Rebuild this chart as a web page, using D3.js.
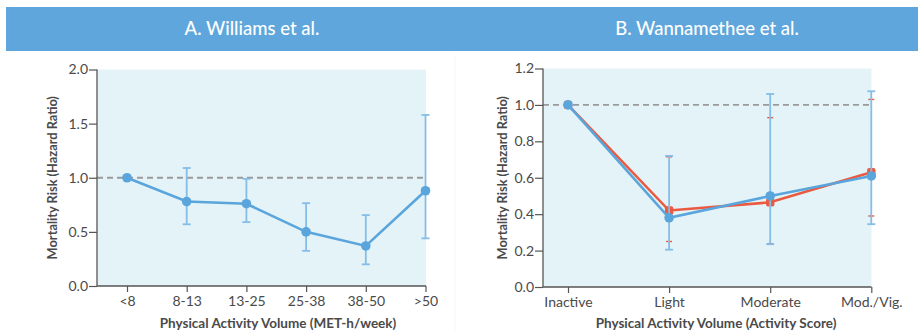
<!DOCTYPE html>
<html>
<head>
<meta charset="utf-8">
<script src="https://cdn.jsdelivr.net/npm/d3@7/dist/d3.min.js"></script>
<style>
  html, body { margin: 0; padding: 0; background: #fff; }
  svg { display: block; font-family: Lato, "Open Sans", sans-serif; }
</style>
</head>
<body>
<svg id="chart" width="918" height="331"></svg>
<script>
// Panel A: Williams et al.
const catsA = ["<8", "8-13", "13-25", "25-38", "38-50", ">50"];
const hrA   = [1.00, 0.78, 0.76, 0.50, 0.37, 0.88];
const loA   = [null, 0.57, 0.59, 0.325, 0.20, 0.44];
const hiA   = [null, 1.09, 0.99, 0.765, 0.655, 1.58];
const ticksA = [0, 0.5, 1.0, 1.5, 2.0];

// Panel B: Wannamethee et al. (two series)
const catsB  = ["Inactive", "Light", "Moderate", "Mod./Vig."];
const hrB1   = [1.00, 0.38, 0.50, 0.61];
const loB1   = [null, 0.205, 0.235, 0.345];
const hiB1   = [null, 0.72, 1.06, 1.075];
const hrB2   = [1.00, 0.42, 0.465, 0.63];
const loB2   = [null, 0.25, 0.238, 0.39];
const hiB2   = [null, 0.715, 0.93, 1.03];
const ticksB = [0, 0.2, 0.4, 0.6, 0.8, 1.0, 1.2];

const BLUE = "#5aa5dc", BLUE_ERR = "#86bde6", RED = "#ea5a40";
const AXIS = "#555", TEXT = "#4a4a4a";

const svg = d3.select("#chart");

function series(cats, hr, lo, hi) {
  return cats.map((c, i) => ({ c, v: hr[i], lo: lo[i], hi: hi[i] }));
}

const panels = [
  {
    title: "A. Williams et al.", titleX: 252,
    header: [6, 466],
    box: { left: 97, right: 426, top: 69.5, bottom: 286 },
    pts: [127, 425.5],
    cats: catsA, yMax: 2.0, ticks: ticksA,
    xTitle: "Physical Activity Volume (MET-h/week)", xTitleX: 278,
    yTitleX: 52,
    series: [
      { data: series(catsA, hrA, loA, hiA), color: BLUE, err: BLUE_ERR, shape: "circle", cap: 4 }
    ]
  },
  {
    title: "B. Wannamethee et al.", titleX: 707,
    header: [466, 918],
    box: { left: 543, right: 871.5, top: 68.5, bottom: 287 },
    pts: [568, 871.3],
    cats: catsB, yMax: 1.2, ticks: ticksB,
    xTitle: "Physical Activity Volume (Activity Score)", xTitleX: 716,
    yTitleX: 502,
    series: [
      { data: series(catsB, hrB2, loB2, hiB2), color: RED, err: RED, shape: "square", cap: 3, errOnlyCaps: true },
      { data: series(catsB, hrB1, loB1, hiB1), color: BLUE, err: BLUE_ERR, shape: "circle", cap: 4 }
    ]
  }
];

// header bars
panels.forEach(p => {
  svg.append("rect")
    .attr("x", p.header[0]).attr("y", 7)
    .attr("width", p.header[1] - p.header[0]).attr("height", 44)
    .attr("fill", "#5ea6db");
  svg.append("text")
    .attr("x", p.titleX).attr("y", 35)
    .attr("text-anchor", "middle")
    .attr("fill", "#fff")
    .attr("font-size", 18.5)
    .attr("font-weight", 500)
    .text(p.title);
});

// faint separator between panels
svg.append("line")
  .attr("x1", 455).attr("x2", 455).attr("y1", 55).attr("y2", 331)
  .attr("stroke", "#f6f6f6").attr("stroke-width", 1);

panels.forEach(p => {
  const b = p.box;
  const x = d3.scalePoint().domain(p.cats).range(p.pts);
  const y = d3.scaleLinear().domain([0, p.yMax]).range([b.bottom, b.top]);
  const g = svg.append("g");

  // plot background
  g.append("rect")
    .attr("x", b.left).attr("y", y(p.yMax))
    .attr("width", b.right - b.left).attr("height", y(0) - y(p.yMax))
    .attr("fill", "#e4f3f8");

  // reference line at HR = 1
  g.append("line")
    .attr("x1", b.left).attr("x2", b.right)
    .attr("y1", y(1)).attr("y2", y(1))
    .attr("stroke", "#9a9a9a").attr("stroke-width", 1.8)
    .attr("stroke-dasharray", "6,4");

  // y axis
  const ya = g.append("g")
    .attr("transform", `translate(${b.left},0)`)
    .call(d3.axisLeft(y).tickValues(p.ticks).tickFormat(d3.format(".1f"))
      .tickSize(8).tickSizeOuter(0).tickPadding(1));
  ya.select(".domain").remove();
  ya.selectAll(".tick line").attr("stroke", AXIS).attr("stroke-width", 1.2);
  ya.selectAll(".tick text").attr("fill", TEXT).attr("font-size", 14)
    .attr("font-family", "Lato, sans-serif");

  // x axis
  const xa = g.append("g")
    .attr("transform", `translate(0,${y(0)})`)
    .call(d3.axisBottom(x).tickSize(6).tickSizeOuter(0).tickPadding(4));
  xa.select(".domain").remove();
  xa.selectAll(".tick line").attr("stroke", AXIS).attr("stroke-width", 1.2);
  xa.selectAll(".tick text").attr("fill", TEXT).attr("font-size", 14)
    .attr("font-family", "Lato, sans-serif");

  // axis lines
  g.append("line")
    .attr("x1", b.left).attr("x2", b.left).attr("y1", y(p.yMax)).attr("y2", y(0))
    .attr("stroke", AXIS).attr("stroke-width", 1.3);
  g.append("line")
    .attr("x1", b.left).attr("x2", b.right).attr("y1", y(0)).attr("y2", y(0))
    .attr("stroke", AXIS).attr("stroke-width", 1.3);

  // axis titles
  g.append("text")
    .attr("x", p.xTitleX).attr("y", 328)
    .attr("text-anchor", "middle")
    .attr("fill", TEXT).attr("font-size", 13.5).attr("font-weight", 700)
    .text(p.xTitle);
  g.append("text")
    .attr("transform", `translate(${p.yTitleX},${(b.top + b.bottom) / 2}) rotate(-90)`)
    .attr("text-anchor", "middle").attr("dominant-baseline", "central")
    .attr("fill", TEXT).attr("font-size", 12.8).attr("font-weight", 700)
    .text("Mortality Risk (Hazard Ratio)");

  // series
  p.series.forEach(s => {
    const withCI = s.data.filter(d => d.lo != null);

    // error bars
    const eg = g.append("g");
    if (!s.errOnlyCaps) {
      eg.selectAll("line.v").data(withCI).join("line")
        .attr("x1", d => x(d.c)).attr("x2", d => x(d.c))
        .attr("y1", d => y(d.lo)).attr("y2", d => y(d.hi))
        .attr("stroke", s.err).attr("stroke-width", 1.8);
    }
    ["lo", "hi"].forEach(k => {
      eg.selectAll("line." + k).data(withCI).join("line")
        .attr("x1", d => x(d.c) - s.cap).attr("x2", d => x(d.c) + s.cap)
        .attr("y1", d => y(d[k])).attr("y2", d => y(d[k]))
        .attr("stroke", s.err).attr("stroke-width", s.errOnlyCaps ? 1.4 : 1.8);
    });

    // connecting line
    g.append("path")
      .datum(s.data)
      .attr("fill", "none")
      .attr("stroke", s.color).attr("stroke-width", 2.6)
      .attr("d", d3.line().x(d => x(d.c)).y(d => y(d.v)));

    // markers
    if (s.shape === "circle") {
      g.selectAll(null).data(s.data).join("circle")
        .attr("cx", d => x(d.c)).attr("cy", d => y(d.v))
        .attr("r", 4.8).attr("fill", s.color);
    } else {
      g.selectAll(null).data(s.data).join("rect")
        .attr("x", d => x(d.c) - 4.2).attr("y", d => y(d.v) - 4.2)
        .attr("width", 8.4).attr("height", 8.4).attr("rx", 2)
        .attr("fill", s.color);
    }
  });
});
</script>
</body>
</html>
